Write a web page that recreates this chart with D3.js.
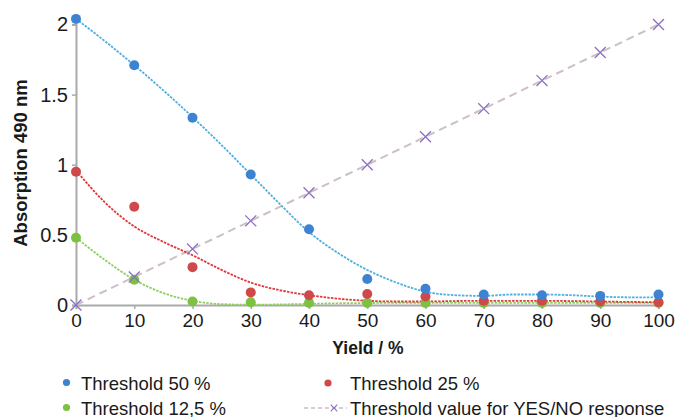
<!DOCTYPE html>
<html>
<head>
<meta charset="utf-8">
<script src="https://cdn.jsdelivr.net/npm/d3@7"></script>
<style>
  html, body { margin: 0; padding: 0; background: #fff; }
  svg { display: block; font-family: "Liberation Sans", Arial, sans-serif; }
</style>
</head>
<body>
<svg id="chart" width="675" height="417"></svg>
<script>
// Yield (%) on the x axis
const yieldPct = [0, 10, 20, 30, 40, 50, 60, 70, 80, 90, 100];

// Measured absorption at 490 nm per threshold
const threshold50  = [2.04, 1.71, 1.335, 0.93, 0.54, 0.185, 0.115, 0.075, 0.07, 0.065, 0.075];
const threshold25  = [0.95, 0.70, 0.27, 0.09, 0.07, 0.078, 0.06, 0.03, 0.03, 0.025, 0.02];
const threshold125 = [0.48, 0.18, 0.025, 0.02, 0.015, 0.015, 0.015, 0.015, 0.015, 0.015, 0.015];
const yesNoLine    = [0, 0.2, 0.4, 0.6, 0.8, 1.0, 1.2, 1.4, 1.6, 1.8, 2.0];

// Trend curves, sampled every 5 %
const trendX   = [0, 5, 10, 15, 20, 25, 30, 35, 40, 45, 50, 55, 60, 65, 70, 75, 80, 85, 90, 95, 100];
const trend50  = [2.04, 1.88, 1.71, 1.53, 1.34, 1.14, 0.93, 0.72, 0.52, 0.37, 0.25, 0.16, 0.095, 0.07, 0.065, 0.075, 0.075, 0.07, 0.06, 0.055, 0.055];
const trend25  = [0.96, 0.73, 0.56, 0.45, 0.355, 0.25, 0.16, 0.105, 0.07, 0.045, 0.03, 0.025, 0.025, 0.028, 0.03, 0.03, 0.03, 0.028, 0.025, 0.022, 0.02];
const trend125 = [0.48, 0.32, 0.18, 0.085, 0.03, 0.006, 0.002, 0.004, 0.008, 0.012, 0.014, 0.015, 0.015, 0.015, 0.015, 0.015, 0.015, 0.015, 0.015, 0.015, 0.015];

const yTicks = [0, 0.5, 1, 1.5, 2];
const yTickLabels = ["0", "0.5", "1", "1.5", "2"];

const svg = d3.select("#chart");
const x = d3.scaleLinear().domain([0, 100]).range([76, 658.5]);
const y = d3.scaleLinear().domain([0, 2]).range([305, 24.5]);

const axisColor = "#a9a9a9";

// Axes
const xAxis = svg.append("g").attr("transform", `translate(0,${y(0)})`)
  .call(d3.axisBottom(x).tickValues(yieldPct).tickSize(4).tickPadding(5));
const yAxis = svg.append("g").attr("transform", `translate(${x(0)},0)`)
  .call(d3.axisLeft(y).tickValues(yTicks).tickFormat((d, i) => yTickLabels[i]).tickSize(4).tickPadding(4));
[xAxis, yAxis].forEach(g => {
  g.select(".domain").attr("stroke", axisColor).attr("stroke-width", 2);
  g.selectAll(".tick line").attr("stroke", axisColor).attr("stroke-width", 1.5);
  g.selectAll(".tick text").attr("fill", "#1a1a1a")
    .attr("font-family", "'Liberation Sans', Arial, sans-serif");
});
xAxis.selectAll(".tick text").attr("font-size", 19);
yAxis.selectAll(".tick text").attr("font-size", 20);

// Axis titles
svg.append("text").attr("x", 368).attr("y", 354).attr("text-anchor", "middle")
  .attr("font-size", 17.5).attr("font-weight", "bold").attr("fill", "#1a1a1a").text("Yield / %");
svg.append("text").attr("transform", "translate(27,163) rotate(-90)")
  .attr("text-anchor", "middle").attr("font-size", 18.5).attr("font-weight", "bold")
  .attr("fill", "#1a1a1a").text("Absorption 490 nm");

// YES/NO threshold line
const straight = d3.line().x((d, i) => x(yieldPct[i])).y(d => y(d));
svg.append("path").datum(yesNoLine).attr("d", straight).attr("fill", "none")
  .attr("stroke", "#cdbfc6").attr("stroke-width", 2).attr("stroke-dasharray", "8,5");

// Trend curves
const trendLine = d3.line().x((d, i) => x(trendX[i])).y(d => y(d)).curve(d3.curveMonotoneX);
const trends = [
  { v: trend125, c: "#8fcf5f" },
  { v: trend25,  c: "#e0383a" },
  { v: trend50,  c: "#4fb0e0" }
];
trends.forEach(t => {
  svg.append("path").datum(t.v).attr("d", trendLine).attr("fill", "none")
    .attr("stroke", t.c).attr("stroke-width", 1.8).attr("stroke-dasharray", "2.5,1.2");
});

// Data markers
const series = [
  { v: threshold125, c: "#7cc142" },
  { v: threshold25,  c: "#d0494a" },
  { v: threshold50,  c: "#3e82d2" }
];
series.forEach(s => {
  svg.append("g").selectAll("circle").data(s.v).join("circle")
    .attr("cx", (d, i) => x(yieldPct[i])).attr("cy", d => y(d))
    .attr("r", 5).attr("fill", s.c);
});

const cross = d3.symbol().type(d3.symbolTimes).size(80);
svg.append("g").selectAll("path").data(yesNoLine).join("path")
  .attr("transform", (d, i) => `translate(${x(yieldPct[i])},${y(d)})`)
  .attr("d", cross).attr("fill", "none").attr("stroke", "#8b6fc4").attr("stroke-width", 1.3);

// Legend
const legend = svg.append("g").attr("font-size", 18.5).attr("fill", "#1a1a1a");
legend.append("circle").attr("cx", 66.5).attr("cy", 382.5).attr("r", 3.6).attr("fill", "#3e82d2");
legend.append("text").attr("x", 81).attr("y", 389.5).text("Threshold 50 %");
legend.append("circle").attr("cx", 66.5).attr("cy", 407.5).attr("r", 3.6).attr("fill", "#7cc142");
legend.append("text").attr("x", 81).attr("y", 414.5).text("Threshold 12,5 %");
legend.append("circle").attr("cx", 328).attr("cy", 383).attr("r", 3.6).attr("fill", "#d0494a");
legend.append("text").attr("x", 350).attr("y", 389.5).text("Threshold 25 %");
legend.append("line").attr("x1", 304).attr("x2", 347).attr("y1", 408).attr("y2", 408)
  .attr("stroke", "#cdbfc6").attr("stroke-width", 1.6).attr("stroke-dasharray", "4,3");
legend.append("path").attr("transform", "translate(334,408)")
  .attr("d", d3.symbol().type(d3.symbolTimes).size(30)).attr("fill", "none")
  .attr("stroke", "#8b6fc4").attr("stroke-width", 1.1);
legend.append("text").attr("x", 350).attr("y", 414.5).text("Threshold value for YES/NO response");
</script>
</body>
</html>
